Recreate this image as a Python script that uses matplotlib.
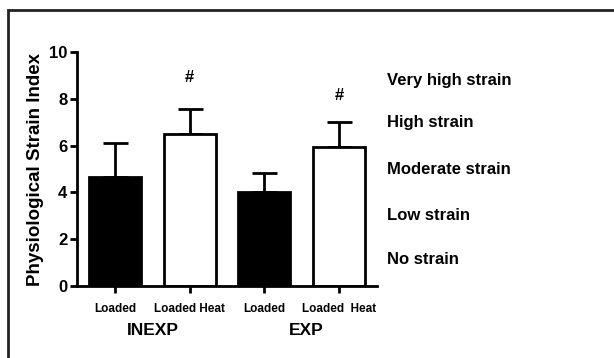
import numpy as np
import matplotlib
matplotlib.use('Agg')
import matplotlib.pyplot as plt
from matplotlib.patches import Rectangle

plt.rcParams['font.family'] = 'Liberation Sans'
plt.rcParams['font.weight'] = 'bold'

# Data
conditions = ['Loaded', 'Loaded Heat', 'Loaded', 'Loaded  Heat']
groups = ['INEXP', 'EXP']
psi_mean = [4.67, 6.48, 4.03, 5.95]
psi_sd = [1.43, 1.10, 0.78, 1.04]
bar_colors = ['black', 'white', 'black', 'white']
sig_marks = ['', '#', '', '#']
sig_y = [0, 8.93, 0, 8.16]
strain_levels = ['Very high strain', 'High strain', 'Moderate strain', 'Low strain', 'No strain']
strain_y = [8.8, 6.97, 4.96, 3.03, 1.15]

x = np.arange(len(psi_mean))

fig = plt.figure(figsize=(6.14, 3.58), dpi=100)
ax = fig.add_axes([0.1254, 0.201, 0.4886, 0.6537])

ax.bar(x, psi_mean, width=0.70, color=bar_colors, edgecolor='black', linewidth=2, zorder=2)
ax.errorbar(x, psi_mean, yerr=[np.zeros(len(psi_sd)), psi_sd], fmt='none',
            ecolor='black', elinewidth=2, capsize=9, capthick=2, zorder=1)

for xi, m, yy in zip(x, sig_marks, sig_y):
    if m:
        ax.text(xi, yy, m, ha='center', va='center', fontsize=12, fontweight='bold')

ax.set_xlim(-0.51, 3.51)
ax.set_ylim(0, 10)
ax.set_yticks([0, 2, 4, 6, 8, 10])
ax.set_xticks(x)
ax.set_xticklabels(conditions, fontsize=8.5, fontweight='bold')
ax.tick_params(axis='y', labelsize=12, width=2, length=5, direction='out', pad=2)
ax.tick_params(axis='x', width=2, length=5, direction='out', pad=7)
for lbl in ax.get_yticklabels():
    lbl.set_fontweight('bold')

ax.spines['top'].set_visible(False)
ax.spines['right'].set_visible(False)
ax.spines['left'].set_linewidth(2)
ax.spines['bottom'].set_linewidth(2)

ax.set_ylabel('Physiological Strain Index', fontsize=13.5, fontweight='bold')
ax.yaxis.set_label_coords(-0.11, 0.5)

# group labels under the ticks
ax.text(0.51, -0.188, groups[0], transform=ax.get_xaxis_transform(),
        ha='center', va='center', fontsize=12.5, fontweight='bold')
ax.text(2.56, -0.188, groups[1], transform=ax.get_xaxis_transform(),
        ha='center', va='center', fontsize=12.5, fontweight='bold')

# strain categories on the right
for lab, yy in zip(strain_levels, strain_y):
    ax.text(3.64, yy, lab, ha='left', va='center', fontsize=12,
            fontweight='bold', clip_on=False)

# outer frame, cut at the right and bottom edges
fig.patches.append(Rectangle((8 / 614, -0.1), 1.2, 1 - 10 / 358 + 0.1,
                             transform=fig.transFigure, fill=False,
                             edgecolor='#222222', linewidth=2))

fig.savefig('out.png', dpi=100)
